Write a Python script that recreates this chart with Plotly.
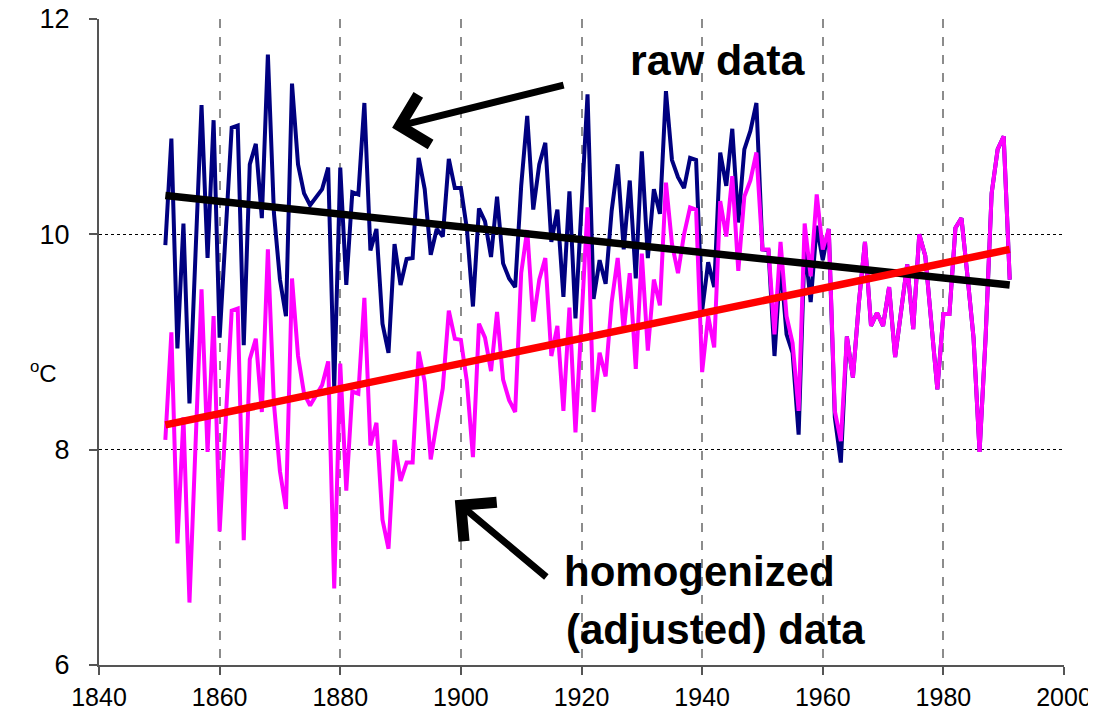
import plotly.graph_objects as go

# ---------------- data ----------------
years = list(range(1851, 1992))

raw_data = [
    9.90, 10.89, 8.94, 10.10, 8.43, 9.82, 11.20, 9.78, 11.06,            # 1851-1859
    9.04, 10.01, 10.99, 11.01, 8.97, 10.65, 10.84, 10.15, 11.67, 10.20,  # 1860s
    9.58, 9.24, 11.40, 10.65, 10.38, 10.27, 10.35, 10.42, 10.62, 8.57,   # 1870s
    10.62, 9.53, 10.39, 10.37, 11.22, 9.85, 10.05, 9.17, 8.90, 9.91,     # 1880s
    9.53, 9.77, 9.78, 10.71, 10.42, 9.81, 10.05, 9.98, 10.70, 10.43,     # 1890s
    10.43, 10.05, 9.33, 10.24, 10.12, 9.79, 10.35, 9.73, 9.59, 9.51,     # 1900s
    10.45, 11.10, 10.23, 10.65, 10.85, 9.93, 10.23, 9.42, 10.40, 9.22,   # 1910s
    10.26, 11.30, 9.40, 9.76, 9.54, 10.22, 10.65, 9.86, 10.50, 9.59,     # 1920s
    10.77, 9.78, 10.42, 10.19, 11.33, 10.69, 10.53, 10.43, 10.71, 10.69, # 1930s
    9.29, 9.74, 9.51, 10.76, 10.45, 10.98, 10.11, 10.79, 10.96, 11.22,   # 1940s
    9.86, 9.85, 8.87, 9.74, 9.07, 8.90, 8.14, 9.91, 9.37, 10.08,         # 1950s
    9.76, 10.05, 8.30, 7.88, 9.05, 8.67, 9.37, 9.93, 9.15, 9.27,         # 1960s
    9.15, 9.51, 8.86, 9.29, 9.72, 9.12, 10.00, 9.80, 9.17, 8.56,         # 1970s
    9.26, 9.26, 10.06, 10.15, 9.61, 9.04, 7.98, 9.04, 10.38, 10.79,      # 1980s
    10.91, 9.58,                                                         # 1990-1991
]

adjusted_data = [
    8.09, 9.09, 7.13, 8.30, 6.58, 8.01, 9.49, 7.98, 9.24,                # 1851-1859
    7.24, 8.26, 9.29, 9.31, 7.16, 8.84, 9.03, 8.35, 9.86, 8.43,          # 1860s
    7.80, 7.45, 9.59, 8.87, 8.52, 8.41, 8.50, 8.60, 8.82, 6.71,          # 1870s
    8.80, 7.62, 8.54, 8.52, 9.41, 8.04, 8.25, 7.35, 7.08, 8.09,          # 1880s
    7.71, 7.88, 7.88, 8.91, 8.63, 7.91, 8.25, 8.57, 9.29, 9.03,          # 1890s
    9.02, 8.63, 7.93, 9.17, 9.04, 8.73, 9.28, 8.65, 8.46, 8.35,          # 1900s
    9.64, 10.04, 9.19, 9.58, 9.78, 8.87, 9.15, 8.36, 9.32, 8.16,         # 1910s
    9.20, 10.25, 8.35, 8.90, 8.68, 9.37, 9.78, 9.10, 9.64, 8.75,         # 1920s
    9.82, 8.92, 9.58, 9.34, 10.48, 9.91, 9.64, 10.00, 10.25, 10.23,      # 1930s
    8.72, 9.24, 8.95, 10.31, 9.98, 10.54, 9.66, 10.35, 10.50, 10.76,     # 1940s
    9.86, 9.86, 9.07, 9.93, 9.24, 8.99, 8.36, 10.10, 9.61, 10.37,        # 1950s
    9.86, 10.05, 8.36, 8.08, 9.05, 8.67, 9.37, 9.93, 9.15, 9.27,         # 1960s
    9.15, 9.51, 8.86, 9.29, 9.72, 9.12, 10.00, 9.80, 9.17, 8.56,         # 1970s
    9.26, 9.26, 10.06, 10.15, 9.61, 9.04, 7.98, 9.04, 10.38, 10.79,      # 1980s
    10.91, 9.58,                                                         # 1990-1991
]

trend_years = [1851, 1991]
trend_raw = [10.36, 9.53]
trend_adjusted = [8.23, 9.86]

x_ticks = [1840, 1860, 1880, 1900, 1920, 1940, 1960, 1980, 2000]
y_ticks = [6, 8, 10, 12]

FONT = "Arial, Liberation Sans, sans-serif"

# ---------------- figure ----------------
fig = go.Figure()

fig.add_trace(go.Scatter(x=years[:len(raw_data)], y=raw_data, mode="lines",
                         line=dict(color="#000080", width=4), name="raw data",
                         showlegend=False))
fig.add_trace(go.Scatter(x=years[:len(adjusted_data)], y=adjusted_data, mode="lines",
                         line=dict(color="#FF00FF", width=4), name="homogenized",
                         showlegend=False))
fig.add_trace(go.Scatter(x=trend_years, y=trend_raw, mode="lines",
                         line=dict(color="#000000", width=7.5), showlegend=False))
fig.add_trace(go.Scatter(x=trend_years, y=trend_adjusted, mode="lines",
                         line=dict(color="#FF0000", width=7.5), showlegend=False))

annotations = [
    dict(x=1942.6, y=11.62, xref="x", yref="y", text="<b>raw data</b>",
         showarrow=False, font=dict(family=FONT, size=43, color="black")),
    dict(x=1939.6, y=6.87, xref="x", yref="y", text="<b>homogenized</b>",
         showarrow=False, font=dict(family=FONT, size=42, color="black")),
    dict(x=1942.2, y=6.33, xref="x", yref="y", text="<b>(adjusted) data</b>",
         showarrow=False, font=dict(family=FONT, size=42, color="black")),
    # arrows
    dict(x=1888.6, y=10.99, xref="x", yref="y", ax=173, ay=-43, text="",
         showarrow=True, arrowhead=4, arrowsize=1.4, arrowwidth=7, arrowcolor="black"),
    dict(x=1899.0, y=7.53, xref="x", yref="y", ax=93, ay=78, text="",
         showarrow=True, arrowhead=4, arrowsize=1.4, arrowwidth=7, arrowcolor="black"),
    # y-axis unit
    dict(x=-0.074, y=8.72, xref="paper", yref="y", text="<sup>o</sup>C",
         showarrow=False, font=dict(family=FONT, size=24, color="black")),
]

# the page body has an 8px margin, so the figure is sized to fit the window
fig.update_layout(
    width=1088, height=703,
    margin=dict(l=90.5, r=31.5, t=11, b=46),
    paper_bgcolor="white", plot_bgcolor="white",
    font=dict(family=FONT, color="black"),
    annotations=annotations,
    showlegend=False,
)

fig.update_xaxes(
    range=[1840, 2000], tickvals=x_ticks, ticktext=[str(v) for v in x_ticks],
    showgrid=True, gridcolor="#8c8c8c", gridwidth=1.5, griddash="dash",
    showline=True, linecolor="#555555", linewidth=2,
    ticks="outside", ticklen=8, tickcolor="#555555", tickwidth=1.5,
    tickfont=dict(family=FONT, size=25, color="black"),
    ticklabelstandoff=1, ticklabeloverflow="allow",
    zeroline=False, automargin=False,
)
fig.update_yaxes(
    range=[6, 12], tickvals=y_ticks, ticktext=[str(v) for v in y_ticks],
    showgrid=True, gridcolor="#000000", gridwidth=1, griddash="dot",
    showline=True, linecolor="#555555", linewidth=2,
    ticks="outside", ticklen=8, tickcolor="#555555", tickwidth=1.5,
    tickfont=dict(family=FONT, size=27, color="black"),
    ticklabelstandoff=14, ticklabeloverflow="allow",
    zeroline=False, automargin=False,
)

fig.write_html("out.html")
